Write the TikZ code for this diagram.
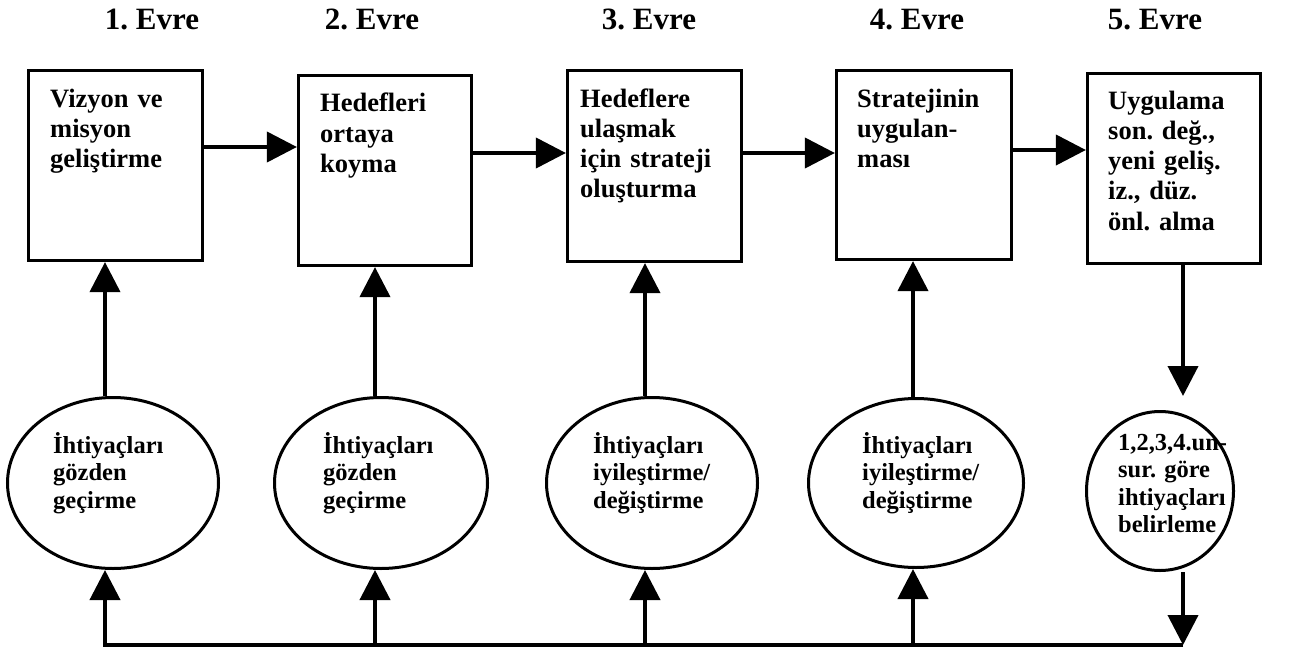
\documentclass[tikz,border=0pt]{standalone}
\usepackage{fontspec}
\setmainfont{Liberation Serif}
\usetikzlibrary{arrows.meta,shapes.geometric}
\frenchspacing
\begin{document}
\begin{tikzpicture}[x=1pt,y=-1pt,
  phase/.style={font=\bfseries\fontsize{31}{36}\selectfont, inner sep=0pt, anchor=base},
  stepbox/.style={draw, line width=3.2pt, rectangle, inner sep=0pt},
  need/.style={draw, line width=3pt, ellipse, inner sep=0pt},
  boxtext/.style={font=\bfseries\fontsize{26.5}{30}\selectfont, text width=200pt, align=left, inner sep=0pt, anchor=base west},
  needtext/.style={font=\bfseries\fontsize{24.5}{27.5}\selectfont, text width=200pt, align=left, inner sep=0pt, anchor=base west},
  conn/.style={line width=4pt, line join=miter, -{Triangle[length=30pt,width=30pt]}},
]
\useasboundingbox (0,0) rectangle (1305,650);

% phase titles
\node[phase] (H1) at (152,30) {1. Evre};
\node[phase] (H2) at (372,30) {2. Evre};
\node[phase] (H3) at (649,30) {3. Evre};
\node[phase] (H4) at (917,30) {4. Evre};
\node[phase] (H5) at (1155,30) {5. Evre};

% phase boxes
\node[stepbox, minimum width=174pt, minimum height=190pt] (B1) at (115.5,165.5) {};
\node[stepbox, minimum width=173pt, minimum height=190pt] (B2) at (385,170.5) {};
\node[stepbox, minimum width=174pt, minimum height=191pt] (B3) at (654.5,166) {};
\node[stepbox, minimum width=175pt, minimum height=189pt] (B4) at (924,165) {};
\node[stepbox, minimum width=173pt, minimum height=190pt] (B5) at (1174,168.5) {};

\node[boxtext] (T1) at (50,107) {Vizyon ve\\misyon\\geliştirme};
\node[boxtext] (T2) at (320,112) {Hedefleri\\ortaya\\koyma};
\node[boxtext] (T3) at (580,107) {Hedeflere\\ulaşmak\\için strateji\\oluşturma};
\node[boxtext] (T4) at (857,107) {Stratejinin\\uygulan-\\ması};
\node[boxtext] (T5) at (1108,110) {Uygulama\\son. değ.,\\yeni geliş.\\iz., düz.\\önl. alma};

% needs ellipses
\node[need, minimum width=211pt, minimum height=171pt] (E1) at (113,483) {};
\node[need, minimum width=213pt, minimum height=171pt] (E2) at (381,483) {};
\node[need, minimum width=211pt, minimum height=171pt] (E3) at (652,483) {};
\node[need, minimum width=215pt, minimum height=169pt] (E4) at (916,483) {};
\node[need, minimum width=147pt, minimum height=159pt] (E5) at (1160,491) {};

\node[needtext] (N1) at (53,453) {İhtiyaçları\\gözden\\geçirme};
\node[needtext] (N2) at (323,453) {İhtiyaçları\\gözden\\geçirme};
\node[needtext] (N3) at (593,453) {İhtiyaçları\\iyileştirme/\\değiştirme};
\node[needtext] (N4) at (862,453) {İhtiyaçları\\iyileştirme/\\değiştirme};
\node[needtext] (N5) at (1118,450) {1,2,3,4.un-\\sur. göre\\ihtiyaçları\\belirleme};

% connector columns and rows
\coordinate (c1) at (105,0);
\coordinate (c2) at (375,0);
\coordinate (c3) at (645,0);
\coordinate (c4) at (913,0);
\coordinate (c5) at (1183,0);
\coordinate (bot) at (0,645);
\coordinate (r12) at (0,147);
\coordinate (r23) at (0,153);
\coordinate (r34) at (0,153);
\coordinate (r45) at (0,150);

% phase sequence
\draw[conn] (B1.east |- r12) -- (B2.west |- r12);
\draw[conn] (B2.east |- r23) -- (B3.west |- r23);
\draw[conn] (B3.east |- r34) -- (B4.west |- r34);
\draw[conn] (B4.east |- r45) -- (B5.west |- r45);

% needs feed the phases
\draw[conn] (E1.north -| c1) -- (B1.south -| c1);
\draw[conn] (E2.north -| c2) -- (B2.south -| c2);
\draw[conn] (E3.north -| c3) -- (B3.south -| c3);
\draw[conn] (E4.north -| c4) -- (B4.south -| c4);
\draw[conn, shorten >=14pt] (B5.south -| c5) -- (E5.north -| c5);

% feedback loop along the bottom
\draw[conn] (E5.south -| c5) -- (c5 |- bot);
\draw[conn] (c5 |- bot) -- (c1 |- bot) -- (E1.south -| c1);
\draw[conn] (c2 |- bot) -- (E2.south -| c2);
\draw[conn] (c3 |- bot) -- (E3.south -| c3);
\draw[conn] (c4 |- bot) -- (E4.south -| c4);
\end{tikzpicture}
\end{document}
